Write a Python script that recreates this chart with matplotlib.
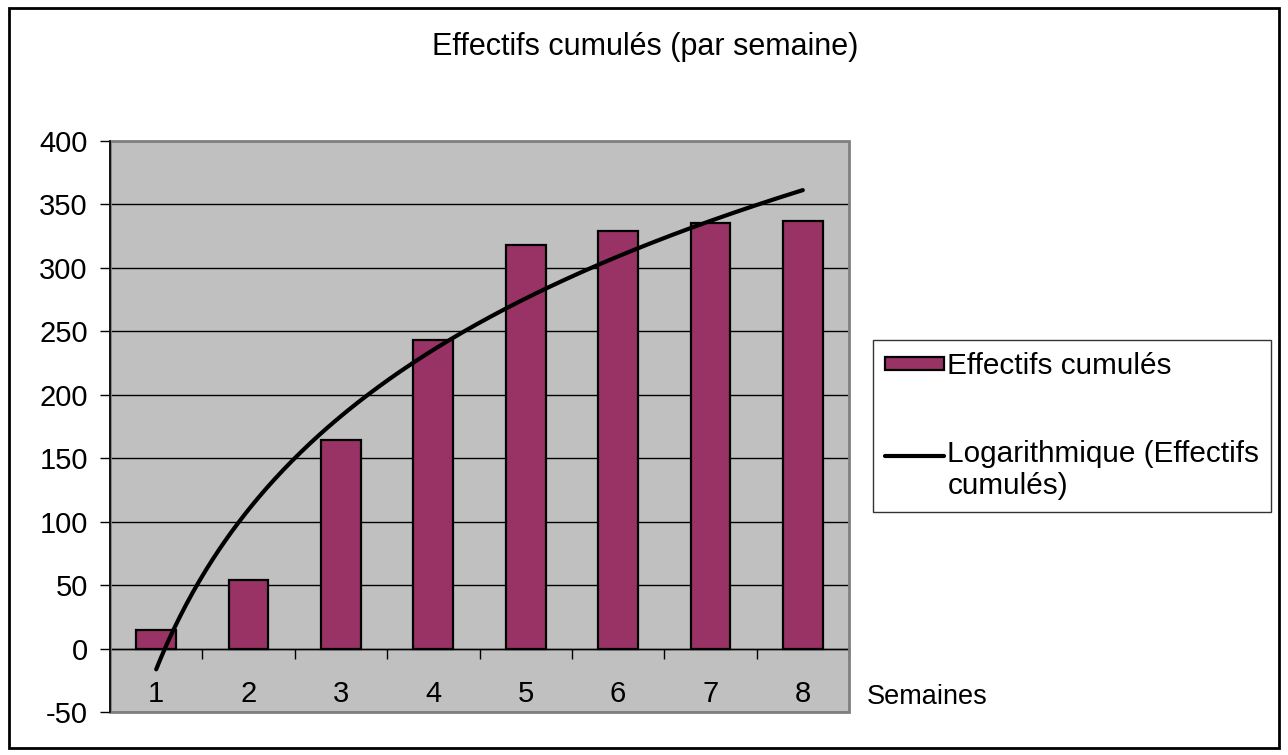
import matplotlib.pyplot as plt
import numpy as np
from matplotlib.patches import Rectangle
from matplotlib.ticker import FixedLocator
from matplotlib.legend_handler import HandlerLine2D

plt.rcParams['font.family'] = ['Liberation Sans', 'DejaVu Sans']
plt.rcParams['axes.unicode_minus'] = False

# données
semaines = [1, 2, 3, 4, 5, 6, 7, 8]
effectifs = [15, 54, 164, 243, 318, 329, 335, 337]
yticks = [-50, 0, 50, 100, 150, 200, 250, 300, 350, 400]


# trait de légende aligné sur la première ligne du libellé
class HandlerTopLine(HandlerLine2D):
    def create_artists(self, legend, orig_handle, xdescent, ydescent, width, height, fontsize, trans):
        artists = super().create_artists(legend, orig_handle, xdescent, ydescent,
                                         width, height, fontsize, trans)
        for art in artists:
            art.set_ydata(np.asarray(art.get_ydata()) + 11.5)
        return artists


W, H = 1288, 755
fig = plt.figure(figsize=(W / 100, H / 100), dpi=100)
ax = fig.add_axes([110 / W, 1 - 712 / H, 739 / W, 571 / H])
ax.set_facecolor('#c0c0c0')

# barres
bars = ax.bar(semaines, effectifs, width=0.43, color='#993366', edgecolor='black',
              linewidth=1.6, zorder=3, label='Effectifs cumulés')

# courbe de tendance logarithmique
a, b = np.polyfit(np.log(semaines), effectifs, 1)
xs = np.linspace(1, 8, 300)
trend, = ax.plot(xs, a * np.log(xs) + b, color='black', linewidth=3, zorder=4,
                 solid_capstyle='round', label='Logarithmique (Effectifs\ncumulés)')

# axes
ax.set_xlim(0.5, 8.5)
ax.set_ylim(-50, 400)
ax.set_yticks(yticks)
ax.set_xticks(semaines)
ax.xaxis.set_minor_locator(FixedLocator(np.arange(0.5, 9, 1)))
ax.tick_params(axis='x', which='major', length=0, pad=23, labelsize=21)
ax.tick_params(axis='x', which='minor', length=7, width=1, direction='out', color='black')
ax.tick_params(axis='y', length=7, width=1, pad=9, labelsize=21)
ax.yaxis.grid(True, color='black', linewidth=1, zorder=1)
ax.set_axisbelow(True)

for s in ['top', 'right']:
    ax.spines[s].set_visible(False)
ax.spines['bottom'].set_position(('data', 0))
ax.spines['bottom'].set_linewidth(1)
ax.spines['left'].set_linewidth(1.2)
ax.spines['left'].set_zorder(6)

# cadre gris de la zone de tracé
ax.add_patch(Rectangle((0, 0), 1, 1, transform=ax.transAxes, fill=False,
                       edgecolor='#808080', linewidth=2, zorder=5, clip_on=False))

# titre et étiquette
fig.text(645 / W, 1 - 47 / H, 'Effectifs cumulés (par semaine)', ha='center', va='center', fontsize=22)
fig.text(867 / W, 1 - 697 / H, 'Semaines', ha='left', va='center', fontsize=19.5)

# légende
leg = ax.legend(handles=[bars, trend], loc='lower left', bbox_to_anchor=(873 / W, 1 - 512 / H),
                bbox_transform=fig.transFigure, fontsize=21.4, frameon=True,
                fancybox=False, edgecolor='black', borderaxespad=0,
                handlelength=2.0, handleheight=0.3, handletextpad=0.1,
                labelspacing=2.0, borderpad=0.4,
                handler_map={trend: HandlerTopLine()})
leg.get_frame().set_linewidth(1)

# cadre extérieur
fig.add_artist(Rectangle((9 / W, 7 / H), 1270 / W, 740 / H, transform=fig.transFigure,
                         fill=False, edgecolor='black', linewidth=2))

fig.savefig('out.png', dpi=100)
